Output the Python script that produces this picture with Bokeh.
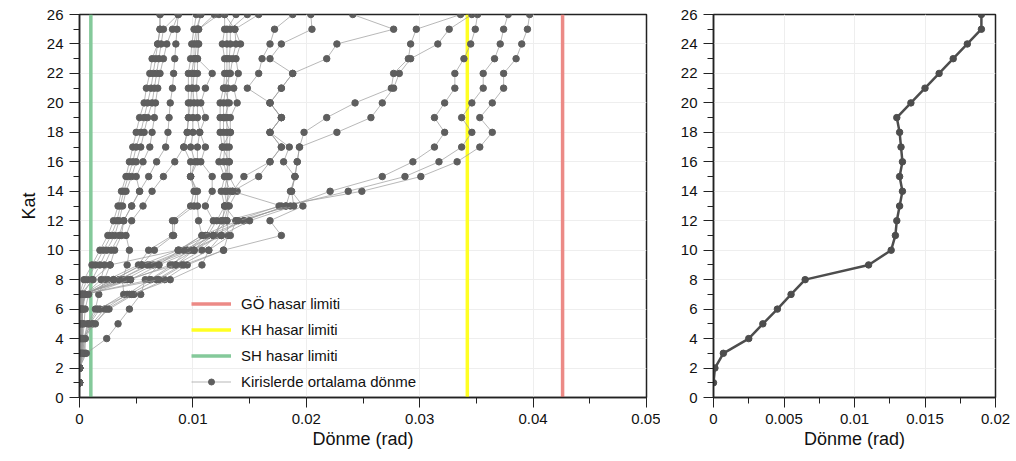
from bokeh.plotting import figure
from bokeh.layouts import row
from bokeh.models import Range1d, SingleIntervalTicker, CustomJSTickFormatter, Legend, LegendItem
from bokeh.embed import file_html
from bokeh.resources import INLINE

floors = list(range(1, 27))

# beam average rotations (rad) per record, floors 1..26
A1 = [0,0,0,0,0,0,0,0.0004,0.0011,0.0018,0.0025,0.0030,0.0034,0.0037,0.0041,0.0044,0.0047,0.0050,0.0053,0.0057,0.0059,0.0062,0.0064,0.0069,0.0071,0.0071]
A2 = [0,0,0,0,0,0,0.0001,0.0007,0.0014,0.0021,0.0028,0.0033,0.0036,0.0039,0.0043,0.0047,0.0050,0.0054,0.0057,0.0060,0.0063,0.0065,0.0067,0.0069,0.0071,0.0071]
A3 = [0,0,0.0001,0.0002,0.0001,0.0001,0.0003,0.0011,0.0018,0.0024,0.0031,0.0035,0.0038,0.0041,0.0046,0.0050,0.0054,0.0057,0.0060,0.0064,0.0066,0.0068,0.0070,0.0072,0.0074,0.0087]
A4 = [0,0,0.0002,0.0003,0.0002,0.0002,0.0005,0.0019,0.0022,0.0028,0.0035,0.0039,0.0046,0.0053,0.0050,0.0056,0.0062,0.0064,0.0066,0.0067,0.0069,0.0071,0.0074,0.0077,0.0082,0.0087]
A5 = [0,0,0.0003,0.0004,0.0007,0.0014,0.0017,0.0022,0.0027,0.0031,0.0037,0.0039,0.0046,0.0053,0.0061,0.0068,0.0076,0.0078,0.0079,0.0080,0.0082,0.0083,0.0084,0.0085,0.0086,0.0087]
A6 = [0,0,0.0005,0.0005,0.0009,0.0018,0.0039,0.0038,0.0042,0.0044,0.0041,0.0046,0.0056,0.0064,0.0074,0.0084,0.0092,0.0095,0.0096,0.0098,0.0099,0.0099,0.0101,0.0101,0.0103,0.0107]
B1 = [0,0,0,0.0001,0.0001,0.0002,0.0004,0.0025,0.0052,0.0061,0.0082,0.0082,0.0098,0.0101,0.0098,0.0098,0.0092,0.0095,0.0096,0.0096,0.0096,0.0096,0.0098,0.0099,0.0101,0.0103]
B2 = [0,0,0.0001,0.0002,0.0002,0.0002,0.0005,0.0030,0.0055,0.0066,0.0083,0.0084,0.0101,0.0103,0.0098,0.0102,0.0098,0.0100,0.0100,0.0101,0.0100,0.0101,0.0102,0.0103,0.0104,0.0107]
B3 = [0,0,0.0006,0.0024,0.0034,0.0044,0.0054,0.0058,0.0070,0.0088,0.0108,0.0105,0.0104,0.0104,0.0098,0.0104,0.0104,0.0106,0.0104,0.0104,0.0103,0.0104,0.0104,0.0105,0.0105,0.0119]
B4 = [0,0,0.0002,0.0003,0.0011,0.0022,0.0042,0.0062,0.0082,0.0095,0.0111,0.0118,0.0111,0.0117,0.0117,0.0107,0.0111,0.0106,0.0111,0.0107,0.0111,0.0117,0.0104,0.0105,0.0105,0.0123]
C1 = [0,0,0,0,0.0001,0.0001,0.0002,0.0045,0.0080,0.0101,0.0113,0.0121,0.0128,0.0125,0.0128,0.0123,0.0126,0.0124,0.0124,0.0124,0.0127,0.0128,0.0128,0.0126,0.0128,0.0128]
C2 = [0,0,0.0001,0.0001,0.0002,0.0002,0.0003,0.0063,0.0085,0.0108,0.0120,0.0125,0.0130,0.0128,0.0130,0.0127,0.0128,0.0127,0.0127,0.0127,0.0129,0.0130,0.0130,0.0130,0.0130,0.0138]
C3 = [0,0,0.0003,0.0004,0.0008,0.0016,0.0044,0.0068,0.0090,0.0114,0.0125,0.0128,0.0131,0.0130,0.0131,0.0130,0.0130,0.0130,0.0130,0.0130,0.0131,0.0132,0.0132,0.0133,0.0133,0.0148]
C4 = [0,0,0.0004,0.0005,0.0012,0.0026,0.0048,0.0075,0.0095,0.0127,0.0131,0.0130,0.0132,0.0139,0.0132,0.0132,0.0132,0.0133,0.0133,0.0139,0.0136,0.0140,0.0138,0.0142,0.0137,0.0158]
C5 = [0,0,0.0002,0.0002,0.0014,0.0024,0.0046,0.0080,0.0108,0.0114,0.0133,0.0138,0.0128,0.0133,0.0128,0.0132,0.0126,0.0133,0.0128,0.0132,0.0128,0.0133,0.0135,0.0138,0.0137,0.0128]
E1 = [0,0,0.0001,0.0001,0.0001,0.0001,0.0002,0.0042,0.0085,0.0101,0.0118,0.0126,0.0128,0.0135,0.0158,0.0168,0.0178,0.0168,0.0178,0.0168,0.0148,0.0158,0.0161,0.0168,0.0172,0.0188]
E2 = [0,0,0.0002,0.0002,0.0003,0.0002,0.0003,0.0070,0.0092,0.0127,0.0178,0.0168,0.0197,0.0187,0.0190,0.0192,0.0194,0.0198,0.0218,0.0243,0.0275,0.0277,0.0290,0.0292,0.0297,0.0336]
E3 = [0,0,0,0.0001,0.0001,0.0001,0.0001,0.0012,0.0027,0.0087,0.0113,0.0145,0.0182,0.0186,0.0190,0.0180,0.0185,0.0168,0.0178,0.0168,0.0178,0.0188,0.0218,0.0227,0.0277,0.0241]
E4 = [0,0,0.0001,0.0002,0.0002,0.0003,0.0004,0.0035,0.0062,0.0095,0.0118,0.0130,0.0178,0.0135,0.0145,0.0168,0.0178,0.0168,0.0178,0.0168,0.0178,0.0188,0.0168,0.0178,0.0205,0.0204]
D1 = [0,0,0.0001,0.0001,0.0001,0.0001,0.0002,0.0040,0.0065,0.0098,0.0125,0.0138,0.0176,0.0249,0.0301,0.0333,0.0353,0.0364,0.0353,0.0364,0.0374,0.0374,0.0385,0.0390,0.0395,0.0397]
D2 = [0,0,0.0001,0.0001,0.0002,0.0002,0.0004,0.0035,0.0060,0.0092,0.0118,0.0145,0.0182,0.0237,0.0287,0.0317,0.0337,0.0346,0.0337,0.0346,0.0356,0.0356,0.0366,0.0371,0.0374,0.0378]
D3 = [0,0,0.0001,0.0002,0.0002,0.0003,0.0005,0.0030,0.0055,0.0087,0.0108,0.0140,0.0186,0.0221,0.0267,0.0294,0.0313,0.0322,0.0313,0.0322,0.0331,0.0331,0.0339,0.0345,0.0349,0.0351]
D4 = [0,0,0.0002,0.0003,0.0004,0.0005,0.0008,0.0045,0.0070,0.0101,0.0125,0.0150,0.0189,0.0187,0.0190,0.0192,0.0194,0.0227,0.0257,0.0267,0.0277,0.0282,0.0292,0.0316,0.0326,0.0346]

records = [A1, A2, A3, A4, A5, A6, B1, B2, B3, B4, C1, C2, C3, C4, C5, E1, E2, E3, E4, D1, D2, D3, D4]

# damage limits (rad)
limit_names = ["GÖ hasar limiti", "KH hasar limiti", "SH hasar limiti"]
limit_values = [0.0426, 0.0342, 0.0010]
limit_colors = ["#ec8a86", "#ffff22", "#84c99a"]

# mean rotation, floors 1..26
mean_rot = [0.0, 0.0001, 0.0007, 0.0025, 0.0035, 0.00453, 0.0055, 0.0065, 0.0110, 0.0126,
            0.0129, 0.0130, 0.0132, 0.0134, 0.0132, 0.0134, 0.0133, 0.0132, 0.0130, 0.0140,
            0.0150, 0.0160, 0.0170, 0.0180, 0.0190, 0.0190]

FONT = "Liberation Sans"
fmt = CustomJSTickFormatter(code="""
let s = tick.toFixed(4);
if (s.indexOf('.') >= 0) { s = s.replace(/0+$/, '').replace(/\\.$/, ''); }
return s;
""")


def style(p, xint):
    p.xaxis.ticker = SingleIntervalTicker(interval=xint, num_minor_ticks=2)
    p.yaxis.ticker = SingleIntervalTicker(interval=2, num_minor_ticks=2)
    p.xaxis.formatter = fmt
    for ax in (p.xaxis[0], p.yaxis[0]):
        ax.axis_line_color = "#222222"
        ax.axis_line_width = 1.5
        ax.major_tick_line_color = "#222222"
        ax.minor_tick_line_color = "#222222"
        ax.major_tick_out = 10
        ax.major_tick_in = 0
        ax.minor_tick_out = 6
        ax.minor_tick_in = 0
        ax.major_label_text_font = FONT
        ax.major_label_text_font_size = "15px"
        ax.major_label_text_color = "#111111"
        ax.axis_label_text_font = FONT
        ax.axis_label_text_font_size = "18px"
        ax.axis_label_text_font_style = "normal"
        ax.axis_label_text_color = "#111111"
    p.xaxis.major_label_standoff = 6
    p.yaxis.major_label_standoff = 6
    p.xaxis.axis_label_standoff = 2
    p.grid.grid_line_color = "#eeeeee"
    p.grid.grid_line_width = 1
    p.outline_line_color = "#222222"
    p.outline_line_width = 1.5
    p.background_fill_color = "white"
    p.border_fill_color = "white"


p1 = figure(width=660, height=461, x_range=Range1d(0, 0.05), y_range=Range1d(0, 26),
            output_backend="svg", toolbar_location=None,
            min_border_left=79, min_border_right=14, min_border_top=14, min_border_bottom=64)
style(p1, 0.01)
p1.xaxis.axis_label = "Dönme (rad)"
p1.yaxis.axis_label = "Kat"

items = []
for name, v, c in zip(limit_names, limit_values, limit_colors):
    r = p1.segment(x0=[v], x1=[v], y0=[floors[0] - 1], y1=[floors[-1]], line_color=c, line_width=3.5)
    items.append(LegendItem(label=name, renderers=[r]))

first_line = first_pts = None
for rec in records:
    ln = p1.line(rec, floors, line_color="#9a9a9a", line_width=0.7)
    pts = p1.scatter(rec, floors, size=6.5, fill_color="#5e5e5e", line_color="#5e5e5e")
    if first_line is None:
        first_line, first_pts = ln, pts
items.append(LegendItem(label="Kirislerde ortalama dönme", renderers=[first_line, first_pts]))

legend = Legend(items=items, location=(112, 6), padding=0, margin=0, spacing=6,
                glyph_width=40, glyph_height=15, label_height=20, label_standoff=10,
                border_line_color=None, background_fill_alpha=0,
                label_text_font=FONT, label_text_font_size="15px", label_text_color="#111111")
p1.add_layout(legend, "center")

p2 = figure(width=356, height=461, x_range=Range1d(0, 0.02), y_range=Range1d(0, 26),
            output_backend="svg", toolbar_location=None,
            min_border_left=53, min_border_right=21, min_border_top=14, min_border_bottom=64)
style(p2, 0.005)
p2.xaxis.axis_label = "Dönme (rad)"
p2.line(mean_rot, floors, line_color="#4d4d4d", line_width=2.5)
p2.scatter(mean_rot, floors, size=6.5, fill_color="#4d4d4d", line_color="#4d4d4d")

layout = row(p1, p2)
open("out.html", "w").write(file_html(layout, INLINE))
